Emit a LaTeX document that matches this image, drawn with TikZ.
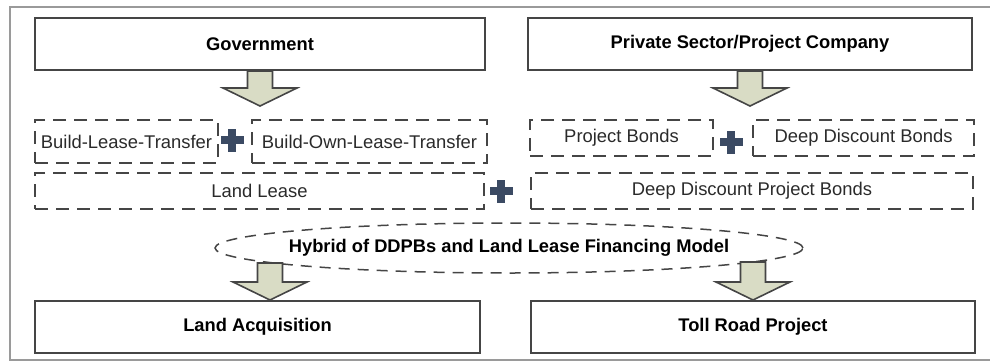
\documentclass[tikz,border=0pt]{standalone}
\usepackage{fontspec}
\setmainfont{Liberation Sans}
\usetikzlibrary{calc,shapes.geometric}
\definecolor{boxline}{HTML}{454545}
\definecolor{framec}{HTML}{9A9A9A}
\definecolor{arrowfill}{HTML}{D9DCC5}
\definecolor{plusc}{HTML}{3B4A63}
\definecolor{textc}{HTML}{2A2A2A}
\newcommand\blkarrow[2]{%
  \path[draw=boxline, fill=arrowfill, line width=1.6pt, line join=miter]
    let \p1=(#1), \p2=(#2) in
    (\x1-12.5pt,\y1) -- (\x1+12.5pt,\y1) -- (\x1+12.5pt,\y2+18pt) --
    (\x1+37pt,\y2+18pt) -- (\x1,\y2) -- (\x1-37pt,\y2+18pt) --
    (\x1-12.5pt,\y2+18pt) -- cycle;}
\begin{document}
\begin{tikzpicture}[x=1pt,y=-1pt,
  solidbox/.style={draw=boxline, line width=2pt, fill=white, inner sep=0pt,
    font=\fontsize{18.3}{22}\selectfont\bfseries, text=black},
  dashbox/.style={draw=boxline, line width=2pt, dash pattern=on 13pt off 8pt,
    inner sep=0pt, font=\fontsize{18.4}{22}\selectfont, text=textc},
  hybridell/.style={ellipse, draw=boxline, line width=1.5pt,
    dash pattern=on 11pt off 8pt, inner sep=0pt},
  hybridtext/.style={inner sep=0pt, font=\fontsize{18.3}{22}\selectfont\bfseries, text=black},
  frame/.style={draw=framec, line width=2pt},
  plussign/.pic={\fill[plusc] (-11.5,-4) rectangle (11.5,4);
                 \fill[plusc] (-4,-11.5) rectangle (4,11.5);}]
\useasboundingbox (0,0) rectangle (990,362);
% outer frame (right side runs off the picture)
\draw[frame] (990,7) -- (10,7) -- (10,359.5) -- (990,359.5);
% top boxes
\node[solidbox, minimum width=450, minimum height=52] (gov) at (260,44) {Government};
\node[solidbox, minimum width=444, minimum height=52] (priv) at (750,44) {Private Sector/Project Company};
% dashed boxes
\node[dashbox, minimum width=183, minimum height=43] (blt) at (126.5,141.5) {Build-Lease-Transfer};
\node[dashbox, minimum width=235, minimum height=43] (bolt) at (369.5,141.5) {Build-Own-Lease-Transfer};
\node[dashbox, minimum width=183, minimum height=36] (pb) at (621.5,138) {Project Bonds};
\node[dashbox, minimum width=221, minimum height=36] (ddb) at (863.5,138) {Deep Discount Bonds};
\node[dashbox, minimum width=449, minimum height=36] (ll) at (259.5,191) {Land Lease};
\node[dashbox, minimum width=442, minimum height=36] (ddpb) at (752,191) {Deep Discount Project Bonds};
% plus signs
\pic at (232,140) {plussign};
\pic at (501,191) {plussign};
\pic at (731,142) {plussign};
% hybrid ellipse
\node[hybridell, minimum width=588, minimum height=50] (hyb) at (509,248) {};
\node[hybridtext] (hybtext) at (hyb.center) {Hybrid of DDPBs and Land Lease Financing Model};
% bottom boxes
\node[solidbox, minimum width=445, minimum height=52] (la) at (257.5,327) {Land Acquisition};
\node[solidbox, minimum width=444, minimum height=52] (toll) at (753,327) {Toll Road Project};
% block arrows
\coordinate (a1) at (260,106);
\coordinate (a2) at (750,106);
\coordinate (s3) at (270,263);
\coordinate (s4) at (753,262);
\blkarrow{gov.south}{a1}
\blkarrow{priv.south}{a2}
\blkarrow{s3}{la.north}
\blkarrow{s4}{toll.north}
\end{tikzpicture}
\end{document}
